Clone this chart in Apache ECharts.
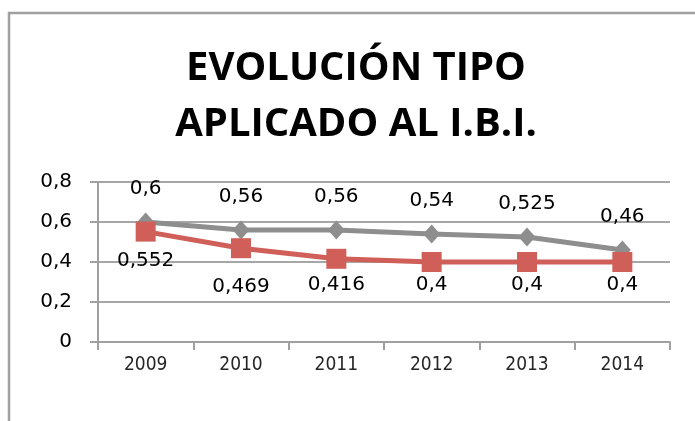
<!DOCTYPE html>
<html>
<head>
<meta charset="utf-8">
<script src="https://cdn.jsdelivr.net/npm/echarts@6/dist/echarts.min.js"></script>
<style>
    html, body {margin: 0; padding: 0; background: #fff;}
    #chart {width: 695px; height: 421px;}
</style>
</head>
<body>
<div id="chart"></div>
<script>
// datos
const years = ['2009', '2010', '2011', '2012', '2013', '2014'];
const tipoGris = [0.6, 0.56, 0.56, 0.54, 0.525, 0.46];
const tipoRojo = [0.552, 0.469, 0.416, 0.4, 0.4, 0.4];
const yTicks = [0, 0.2, 0.4, 0.6, 0.8];

// desplazamiento extra de las etiquetas rojas (estilo)
const redLabelShift = [6, 16, 3, 0, 0, 0];

const comma = v => String(v).replace('.', ',');
const labelFont = 'DejaVu Sans';

let myChart = echarts.init(document.getElementById('chart'));
myChart.setOption({
    animation: false,
    title: {
        text: 'EVOLUCIÓN TIPO\nAPLICADO AL I.B.I.',
        left: 356,
        textAlign: 'center',
        top: 41,
        padding: 0,
        textStyle: {
            fontFamily: 'Open Sans',
            fontWeight: 'bold',
            fontSize: 40,
            lineHeight: 56,
            color: '#000'
        }
    },
    graphic: [{
        type: 'rect',
        shape: {x: 9, y: 13, width: 720, height: 440},
        style: {fill: 'none', stroke: '#a0a0a0', lineWidth: 2.5},
        silent: true
    }],
    grid: {left: 98, right: 25, top: 182, bottom: 79},
    xAxis: {
        type: 'category',
        data: years,
        boundaryGap: true,
        axisLine: {lineStyle: {color: '#a0a0a0', width: 2}},
        axisTick: {show: true, length: 8, lineStyle: {color: '#a0a0a0', width: 2}},
        axisLabel: {
            margin: 14,
            fontFamily: "'DejaVu Sans Condensed', Roboto, sans-serif",
            fontSize: 19,
            color: '#262626'
        }
    },
    yAxis: {
        type: 'value',
        min: yTicks[0],
        max: yTicks[yTicks.length - 1],
        interval: 0.2,
        axisLine: {show: true, lineStyle: {color: '#a0a0a0', width: 2}},
        axisTick: {show: true, length: 8, lineStyle: {color: '#a0a0a0', width: 2}},
        splitLine: {lineStyle: {color: '#a6a6a6', width: 2}},
        axisLabel: {
            margin: 26,
            fontFamily: labelFont,
            fontSize: 20,
            color: '#000',
            formatter: v => comma(+v.toFixed(1))
        }
    },
    series: [
        {
            name: 'gris',
            type: 'line',
            data: tipoGris,
            symbol: 'diamond',
            symbolSize: [17, 19],
            itemStyle: {color: '#8e8e8e'},
            lineStyle: {color: '#8e8e8e', width: 5},
            label: {
                show: true,
                position: 'top',
                distance: 14,
                fontFamily: labelFont,
                fontSize: 20,
                color: '#000',
                formatter: p => comma(p.value)
            },
            z: 2
        },
        {
            name: 'rojo',
            type: 'line',
            data: tipoRojo.map((v, i) => ({
                value: v,
                label: {offset: [0, redLabelShift[i]]}
            })),
            symbol: 'rect',
            symbolSize: 20,
            itemStyle: {color: '#cf5f58'},
            lineStyle: {color: '#cf5f58', width: 5},
            label: {
                show: true,
                position: 'bottom',
                distance: 3,
                fontFamily: labelFont,
                fontSize: 20,
                color: '#000',
                formatter: p => comma(p.value)
            },
            z: 3
        }
    ]
});
</script>
</body>
</html>
